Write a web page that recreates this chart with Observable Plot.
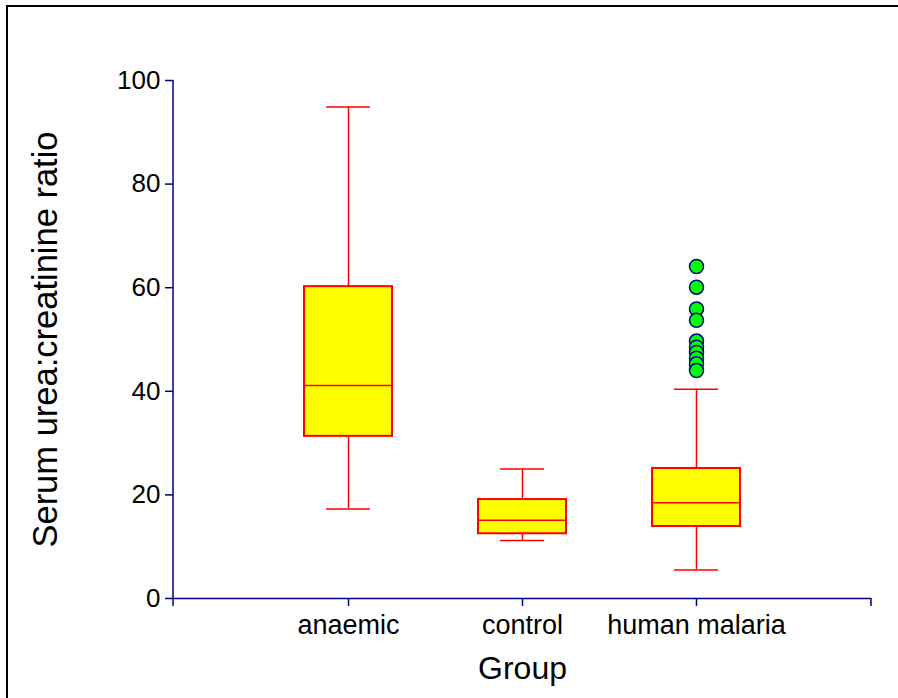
<!DOCTYPE html>
<html>
<head>
<meta charset="utf-8">
<script src="https://cdn.jsdelivr.net/npm/d3@7"></script>
<script src="https://cdn.jsdelivr.net/npm/@observablehq/plot@0.6"></script>
<style>
  html, body { margin: 0; padding: 0; background: white; overflow: hidden; }
  #wrap { position: relative; width: 898px; height: 698px; }
  #border { position: absolute; left: 6px; top: 5px; width: 1000px; height: 1000px;
            border-left: 2px solid black; border-top: 2px solid black; pointer-events: none; }
  svg g[aria-label="y-axis tick"], svg g[aria-label="x-axis tick"] { stroke: #000080; stroke-width: 1.5px; }
</style>
</head>
<body>
<div id="wrap"><div id="border"></div></div>
<script>
// ---- data ----
const groups = ["anaemic", "control", "human malaria"];
const whiskerLow  = [17.3, 11.2, 5.5];
const q1          = [31.3, 12.5, 13.9];
const median      = [41.1, 15.1, 18.5];
const q3          = [60.2, 19.1, 25.1];
const whiskerHigh = [94.9, 25.0, 40.4];
const outlierGroup = "human malaria";
const outlierValues = [64.1, 60.1, 55.9, 53.7, 49.7, 48.5, 47.5, 46.4, 45.3, 44.0];
const yTicks = [0, 20, 40, 60, 80, 100];
const yLabel = "Serum urea:creatinine ratio";
const xLabel = "Group";

const boxes = groups.map((g, i) => ({
  group: g, low: whiskerLow[i], q1: q1[i], median: median[i], q3: q3[i], high: whiskerHigh[i]
}));
const outliers = outlierValues.map(v => ({group: outlierGroup, value: v}));

const RED = "#ff0000", NAVY = "#000080";

const plot = Plot.plot({
  width: 898, height: 698,
  marginLeft: 173, marginRight: 27, marginTop: 80, marginBottom: 100,
  style: {fontFamily: "'Liberation Sans', Arial, sans-serif", background: "white", color: "black"},
  x: {type: "band", domain: groups, paddingInner: 0.495, paddingOuter: 0.7475},
  y: {domain: [0, 100]},
  marks: [
    Plot.axisY({ticks: yTicks, tickSize: 8, tickPadding: 5, fontSize: 26, label: null}),
    Plot.axisX({tickSize: 8, tickPadding: 8, fontSize: 27, label: null}),
    Plot.ruleX(boxes, {x: "group", y1: "low", y2: "q1", stroke: RED, strokeWidth: 1.5}),
    Plot.ruleX(boxes, {x: "group", y1: "q3", y2: "high", stroke: RED, strokeWidth: 1.5}),
    Plot.tickY(boxes, {x: "group", y: "low", inset: 22, stroke: RED, strokeWidth: 1.5}),
    Plot.tickY(boxes, {x: "group", y: "high", inset: 22, stroke: RED, strokeWidth: 1.5}),
    Plot.barY(boxes, {x: "group", y1: "q1", y2: "q3", fill: "#ffff00", stroke: RED, strokeWidth: 2}),
    Plot.tickY(boxes, {x: "group", y: "median", stroke: RED, strokeWidth: 1.5}),
    Plot.dot(outliers, {x: "group", y: "value", r: 7, fill: "#00ff00", stroke: NAVY, strokeWidth: 1.5}),
    Plot.ruleY([0], {stroke: NAVY, strokeWidth: 1.5}),
    Plot.text([yLabel], {frameAnchor: "left", dx: -128, rotate: -90, textAnchor: "middle", lineAnchor: "middle", fontSize: 34.5, fill: "black"}),
    Plot.text([xLabel], {frameAnchor: "bottom", dy: 70, textAnchor: "middle", lineAnchor: "middle", fontSize: 32, fill: "black"})
  ]
});

// axis lines (left spine and right end tick) from the plot's own scales
const xs = plot.scale("x"), ys = plot.scale("y");
const svg = d3.select(plot);
const x0 = xs.range[0], x1 = xs.range[1];
const yTop = ys.apply(100), yZero = ys.apply(0);
svg.append("line").attr("x1", x0).attr("x2", x0).attr("y1", yTop).attr("y2", yZero + 8)
   .attr("stroke", NAVY).attr("stroke-width", 1.5);
svg.append("line").attr("x1", x1).attr("x2", x1).attr("y1", yZero).attr("y2", yZero + 8)
   .attr("stroke", NAVY).attr("stroke-width", 1.5);

document.getElementById("wrap").prepend(plot);
</script>
</body>
</html>
